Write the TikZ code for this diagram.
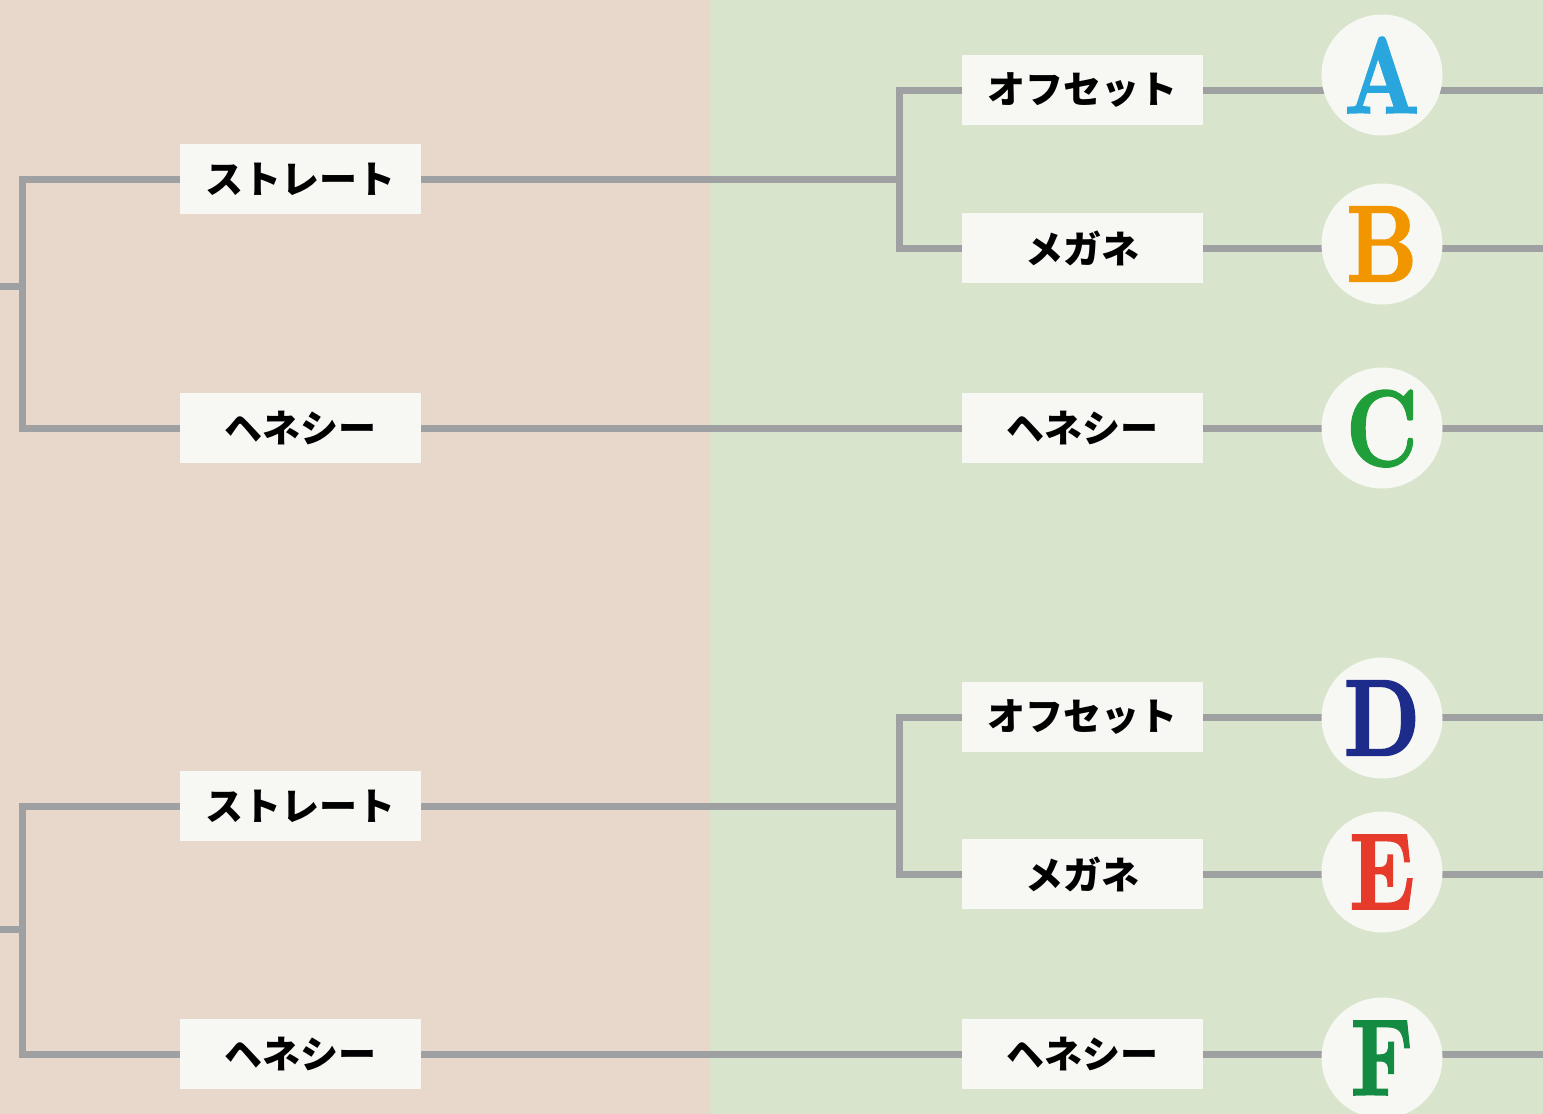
\documentclass[tikz,border=0pt]{standalone}
\usepackage{fontspec}
\usepackage{graphicx}
\newfontfamily\jp{Noto Sans CJK JP}
\newfontfamily\ltrfont{lmroman10-bold}[Extension=.otf, FakeBold=2]
\definecolor{bgpink}{HTML}{E8D8CB}
\definecolor{bggreen}{HTML}{D8E4CB}
\definecolor{linegray}{HTML}{9EA0A1}
\definecolor{boxfill}{HTML}{F7F8F4}
\definecolor{cA}{HTML}{2AA6DF}
\definecolor{cB}{HTML}{F29600}
\definecolor{cC}{HTML}{209E3A}
\definecolor{cD}{HTML}{1D2C8B}
\definecolor{cE}{HTML}{E63A2A}
\definecolor{cF}{HTML}{138B42}
\pgfdeclarelayer{back}
\pgfdeclarelayer{lines}
\pgfsetlayers{back,lines,main}
\newcommand{\ltr}[1]{\scalebox{0.8}[1]{#1}}
\begin{document}
\begin{tikzpicture}[x=1pt,y=-1pt,
  conn/.style={draw=linegray, line width=7pt},
  label/.style={fill=boxfill, minimum width=241pt, minimum height=70pt, inner sep=0pt,
    font=\jp\bfseries\fontsize{38}{38}\selectfont, text=black},
  badge/.style={circle, fill=boxfill, minimum size=121pt, inner sep=0pt,
    font=\ltrfont\fontsize{108}{108}\selectfont, text depth=0pt}]
\useasboundingbox (0,0) rectangle (1543,1114);
\begin{pgfonlayer}{back}
\fill[bgpink] (0,0) rectangle (710,1114);
\fill[bggreen] (710,0) rectangle (1543,1114);
\end{pgfonlayer}

% coordinates for bracket ends
\coordinate (s1) at (0,286);
\coordinate (k1) at (22,286);
\coordinate (s2) at (0,929);
\coordinate (k2) at (22,929);
\coordinate (m1) at (899,179);
\coordinate (m2) at (899,806);
\coordinate (re) at (1543,0);

% boxes
\node[label] (L1) at (300,179) {ストレート};
\node[label] (L2) at (300,428) {ヘネシー};
\node[label] (L3) at (300,806) {ストレート};
\node[label] (L4) at (300,1054) {ヘネシー};
\node[label] (R1) at (1082,90) {オフセット};
\node[label] (R2) at (1082,248) {メガネ};
\node[label] (R3) at (1082,428) {ヘネシー};
\node[label] (R4) at (1082,717) {オフセット};
\node[label] (R5) at (1082,874) {メガネ};
\node[label] (R6) at (1082,1054) {ヘネシー};

% badges
\node[badge, text=cA] (A) at (1382,75) {\ltr{A}};
\node[badge, text=cB] (B) at (1382,244) {\ltr{B}};
\node[badge, text=cC] (C) at (1382,428) {\ltr{C}};
\node[badge, text=cD] (D) at (1382,718) {\ltr{D}};
\node[badge, text=cE] (E) at (1382,872) {\ltr{E}};
\node[badge, text=cF] (F) at (1382,1058) {\ltr{F}};

\begin{pgfonlayer}{lines}
% upper group
\draw[conn] (s1) -- (k1);
\draw[conn] (L1.center) -| (k1) |- (L2.center);
\draw[conn] (L1.center) -- (m1);
\draw[conn] (R1.center) -| (m1) |- (R2.center);
\draw[conn] (L2.center) -- (R3.center);
\draw[conn] (R1.center) -- (R1.center -| A.center) -- (R1.center -| re);
\draw[conn] (R2.center) -- (R2.center -| B.center) -- (R2.center -| re);
\draw[conn] (R3.center) -- (R3.center -| C.center) -- (R3.center -| re);
% lower group
\draw[conn] (s2) -- (k2);
\draw[conn] (L3.center) -| (k2) |- (L4.center);
\draw[conn] (L3.center) -- (m2);
\draw[conn] (R4.center) -| (m2) |- (R5.center);
\draw[conn] (L4.center) -- (R6.center);
\draw[conn] (R4.center) -- (R4.center -| D.center) -- (R4.center -| re);
\draw[conn] (R5.center) -- (R5.center -| E.center) -- (R5.center -| re);
\draw[conn] (R6.center) -- (R6.center -| F.center) -- (R6.center -| re);
\end{pgfonlayer}
\end{tikzpicture}
\end{document}
